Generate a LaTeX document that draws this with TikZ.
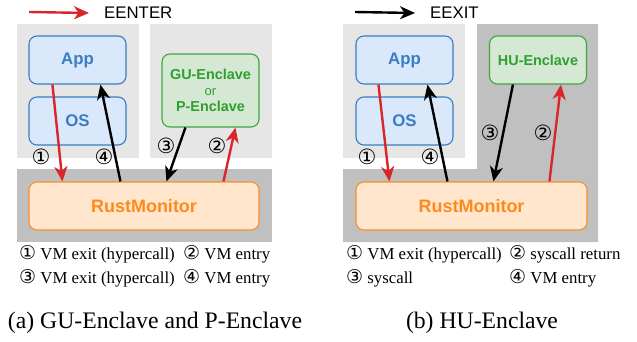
\documentclass[tikz,border=0pt]{standalone}
\usepackage{fontspec}
\setmainfont{Liberation Serif}
\setsansfont{Liberation Sans}
\newfontfamily\circfont{DejaVu Sans}
\usetikzlibrary{arrows.meta}

\definecolor{appfill}{HTML}{DAE8FC}
\definecolor{appdraw}{HTML}{3A7DC3}
\definecolor{encfill}{HTML}{D5E8D4}
\definecolor{encdraw}{HTML}{3DA73D}
\definecolor{enctext}{HTML}{2EA02E}
\definecolor{rmfill}{HTML}{FFE6CC}
\definecolor{rmdraw}{HTML}{F5902A}
\definecolor{rmtext}{HTML}{FF8A1C}
\definecolor{lightbg}{HTML}{E6E6E6}
\definecolor{darkbg}{HTML}{C0C0C0}
\definecolor{arrred}{HTML}{D9262B}

\newcommand{\circnum}[1]{{\circfont\fontsize{19}{19}\selectfont #1}}

\begin{document}
\begin{tikzpicture}[x=1pt, y=-1pt,
    box/.style = {draw, rounded corners=8pt, line width=1.1pt, align=center, inner sep=0pt,
                  font=\sffamily\bfseries\fontsize{16.8}{18}\selectfont},
    appbox/.style = {box, draw=appdraw, fill=appfill, text=appdraw, minimum width=97pt, minimum height=48pt},
    encbox/.style = {box, draw=encdraw, fill=encfill, text=enctext, minimum width=97pt,
                     font=\sffamily\bfseries\fontsize{14.4}{17}\selectfont},
    rmbox/.style = {box, draw=rmdraw, fill=rmfill, text=rmtext, minimum height=48pt,
                    font=\sffamily\bfseries\fontsize{18}{20}\selectfont},
    redarr/.style = {draw=arrred, line width=2.4pt, -{Stealth[length=15pt, width=13pt, inset=4.5pt]}},
    blackarr/.style = {draw=black, line width=2.4pt, -{Stealth[length=15pt, width=13pt, inset=4.5pt]}},
    num/.style = {inner sep=0pt, font=\circfont\fontsize{21}{21}\selectfont},
    key/.style = {anchor=west, inner sep=0pt, font=\sffamily\fontsize{16.8}{18}\selectfont},
    leg/.style = {anchor=west, inner sep=0pt, font=\fontsize{16.8}{19}\selectfont},
    captext/.style = {inner sep=0pt, font=\fontsize{23.7}{26}\selectfont}]
    \useasboundingbox (0,0) rectangle (637,341);

    % (a) GU-Enclave and P-Enclave
    \fill[lightbg] (17,24) rectangle (139,158);
    \fill[lightbg] (150,24) rectangle (272,158);
    \fill[darkbg] (17,169) rectangle (272,242);
    \node[appbox] (app) at (77.5,60) {App};
    \node[appbox] (os) at (77.5,121) {OS};
    \node[encbox, minimum height=73pt] (gu) at (210.5,90.5) {GU-Enclave\\[-1pt]{\mdseries\fontsize{13}{15}\selectfont or}\\[-1pt]P-Enclave};
    \node[rmbox, minimum width=230pt] (rm) at (144,206) {RustMonitor};
    \draw[redarr] ([xshift=24pt]app.south west) -- ([xshift=34pt]rm.north west);
    \draw[blackarr] ([xshift=92pt]rm.north west) -- ([xshift=72pt]app.south west);
    \draw[blackarr] ([xshift=24pt]gu.south west) -- ([xshift=138pt]rm.north west);
    \draw[redarr] ([xshift=195pt]rm.north west) -- ([xshift=74pt]gu.south west);
    \node[num] (a1) at (41,157) {①};
    \node[num] (a4) at (104,157) {④};
    \node[num] (a3) at (166,146) {③};
    \node[num] (a2) at (217,146) {②};
    \coordinate (ka) at (29,12);
    \node[key] (kt) at (104,13) {EENTER};
    \draw[redarr] (ka) -- ([xshift=-15pt]kt.west);
    \node[leg] (la1) at (19,254) {\circnum{①} VM exit (hypercall)};
    \node[leg] (la2) at (183,254) {\circnum{②} VM entry};
    \node[leg] (la3) at (19,278) {\circnum{③} VM exit (hypercall)};
    \node[leg] (la4) at (183,278) {\circnum{④} VM entry};
    \node[captext] (capa) at (155,323) {(a) GU-Enclave and P-Enclave};

    % (b) HU-Enclave
    \fill[lightbg] (343,24) rectangle (465,158);
    \fill[darkbg] (477,24) -- (598,24) -- (598,242) -- (343,242) -- (343,169) -- (477,169) -- cycle;
    \node[appbox] (app2) at (404.5,60) {App};
    \node[appbox] (os2) at (404.5,121) {OS};
    \node[encbox, minimum height=48pt] (hu) at (538,60) {HU-Enclave};
    \node[rmbox, minimum width=231pt] (rm2) at (471.5,206) {RustMonitor};
    \draw[redarr] ([xshift=23pt]app2.south west) -- ([xshift=34pt]rm2.north west);
    \draw[blackarr] ([xshift=92pt]rm2.north west) -- ([xshift=72pt]app2.south west);
    \draw[blackarr] ([xshift=24pt]hu.south west) -- ([xshift=138pt]rm2.north west);
    \draw[redarr] ([xshift=194pt]rm2.north west) -- ([xshift=72pt]hu.south west);
    \node[num] (b1) at (367,157) {①};
    \node[num] (b4) at (430,157) {④};
    \node[num] (b3) at (490,133) {③};
    \node[num] (b2) at (543,133) {②};
    \coordinate (kb) at (355,12);
    \node[key] (kbt) at (430,13) {EEXIT};
    \draw[blackarr] (kb) -- ([xshift=-15pt]kbt.west);
    \node[leg] (lb1) at (346,254) {\circnum{①} VM exit (hypercall)};
    \node[leg] (lb2) at (509,254) {\circnum{②} syscall return};
    \node[leg] (lb3) at (346,278) {\circnum{③} syscall};
    \node[leg] (lb4) at (509,278) {\circnum{④} VM entry};
    \node[captext] (capb) at (482,323) {(b) HU-Enclave};
\end{tikzpicture}
\end{document}
